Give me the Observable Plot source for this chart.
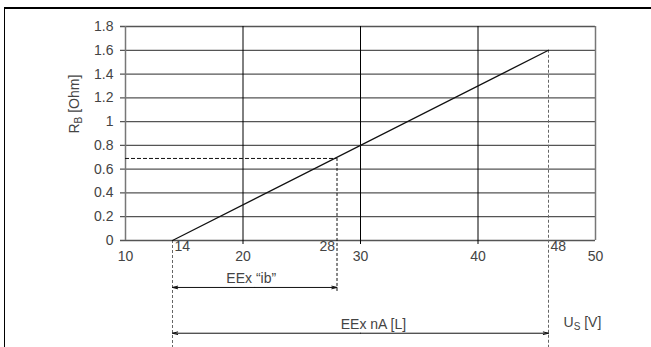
<!DOCTYPE html>
<html><head><meta charset="utf-8">
<script src="https://cdn.jsdelivr.net/npm/d3@7"></script>
<script src="https://cdn.jsdelivr.net/npm/@observablehq/plot@0.6"></script>
<style>
html,body{margin:0;padding:0;background:#fff;}
#wrap{position:relative;width:651px;height:347px;overflow:hidden;}
#frame{position:absolute;left:4px;top:7px;right:-10px;bottom:-10px;border-left:1.5px solid #000;border-top:2px solid #000;pointer-events:none;}
#chart{position:absolute;left:0;top:0;}
</style></head><body>
<div id="wrap"><div id="chart"></div><div id="frame"></div></div>
<script>
// ---- data ----
const yTicks = [0, 0.2, 0.4, 0.6, 0.8, 1, 1.2, 1.4, 1.6, 1.8];
const yTickLabels = ["0", "0.2", "0.4", "0.6", "0.8", "1", "1.2", "1.4", "1.6", "1.8"];
const xFrame = [10, 50];
const xGrid = [20, 30, 40];
const xMajorTicks = [10, 20, 30, 40, 50];
const xMajorLabels = ["10", "20", "30", "40", "50"];
const limitX = [14, 28, 46];          // drawn positions of the limit markers
const limitLabels = ["14", "28", "48"];
const lineUs = [14, 46];
const lineRb = [0, 1.6];
const ibRb = 0.69;                    // R_B at the EEx "ib" limit
const arrowLevels = [-0.395, -0.78];  // R_B level of the range arrows (below axis)
const arrowStart = [14, 14];
const arrowEnd = [28, 46];
const rangeNames = ["EEx “ib”", "EEx nA [L]"];
const rangeLabelX = [20.7, 31.1];
const rangeLabelY = [-0.32, -0.707];
const bottomRb = -0.9;
const ibDashEnd = -0.44;

const lineData = lineUs.map((u, i) => ({u, r: lineRb[i]}));
const arrows = [];
arrowStart.forEach((s, i) => {
  const mid = (s + arrowEnd[i]) / 2;
  arrows.push({x1: mid, x2: s, y: arrowLevels[i]});
  arrows.push({x1: mid, x2: arrowEnd[i], y: arrowLevels[i]});
});
const rangeLabels = rangeNames.map((t, i) => ({t, x: rangeLabelX[i], y: rangeLabelY[i]}));

const dash = {strokeDasharray: "3,2"};

const chart = Plot.plot({
  width: 651,
  height: 347,
  marginLeft: 125,
  marginRight: 56,
  marginTop: 26,
  marginBottom: 107,
  style: {fontFamily: "'Liberation Sans', Arial, sans-serif", fontSize: "14px", color: "#444", background: "transparent", overflow: "visible"},
  x: {domain: [10, 50], axis: null},
  y: {domain: [0, 1.8], axis: null},
  marks: [
    Plot.ruleY(yTicks, {stroke: "#555", strokeWidth: 1.3, insetLeft: -5}),
    Plot.ruleX(xFrame, {stroke: "#777", strokeWidth: 1.5}),
    Plot.ruleX(xGrid, {stroke: "#000", strokeWidth: 1, insetBottom: -4}),
    Plot.text(yTicks, {y: d => d, frameAnchor: "left", dx: -12, textAnchor: "end", text: (d, i) => yTickLabels[i]}),
    Plot.text(xMajorTicks, {x: d => d, frameAnchor: "bottom", dy: 20, text: (d, i) => xMajorLabels[i]}),
    Plot.text(limitX, {x: d => d, frameAnchor: "bottom", dy: 10, dx: 2, textAnchor: "start", text: (d, i) => limitLabels[i], filter: (d, i) => i !== 1}),
    Plot.text(limitX, {x: d => d, frameAnchor: "bottom", dy: 10, dx: -2, textAnchor: "end", text: (d, i) => limitLabels[i], filter: (d, i) => i === 1}),
    Plot.ruleX([limitX[0]], {y1: 0, y2: bottomRb, stroke: "#666", strokeWidth: 1, ...dash}),
    Plot.ruleX([limitX[2]], {y1: lineRb[1], y2: bottomRb, stroke: "#666", strokeWidth: 1, ...dash}),
    Plot.ruleX([limitX[1]], {y1: ibRb, y2: ibDashEnd, stroke: "#111", strokeWidth: 1, ...dash}),
    Plot.ruleY([ibRb], {x1: 10, x2: limitX[1], stroke: "#111", strokeWidth: 1, strokeDasharray: "4,2"}),
    Plot.line(lineData, {x: "u", y: "r", stroke: "#111", strokeWidth: 1.2}),
    Plot.arrow(arrows, {x1: "x1", x2: "x2", y1: "y", y2: "y", stroke: "#111", strokeWidth: 1, headLength: 8, headAngle: 28}),
    Plot.text(rangeLabels, {x: "x", y: "y", text: "t"}),
    Plot.text(["US [V]"], {x: () => 47.28, y: () => -0.69, textAnchor: "start", text: d => d}),
    Plot.text(["RB [Ohm]"], {frameAnchor: "left", rotate: -90, dx: -51, text: d => d})
  ]
});
document.getElementById("chart").appendChild(chart);

function subscript(full, main, sub, rest) {
  d3.select(chart).selectAll("text").filter(function() { return this.textContent === full; }).each(function() {
    const t = d3.select(this);
    t.text(null);
    t.append("tspan").text(main);
    t.append("tspan").attr("font-size", "10px").attr("dy", "3").text(sub);
    t.append("tspan").attr("dy", "-3").text(rest);
  });
}
subscript("RB [Ohm]", "R", "B", " [Ohm]");
subscript("US [V]", "U", "S", " [V]");
</script>
</body></html>
